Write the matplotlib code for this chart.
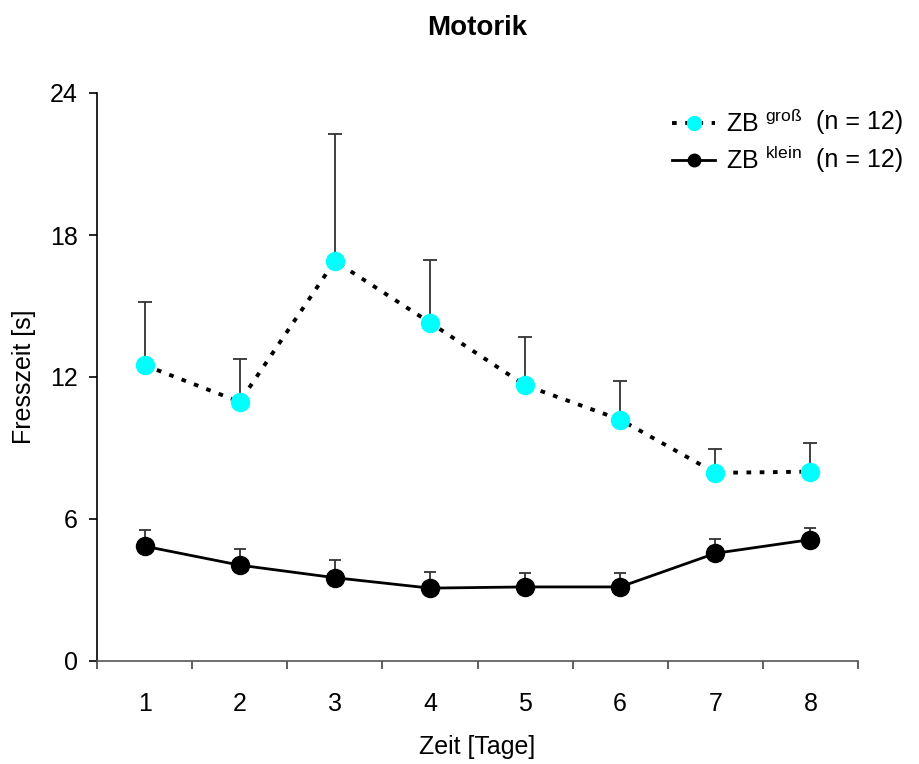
import numpy as np
import matplotlib
matplotlib.use("Agg")
import matplotlib.pyplot as plt
from matplotlib.lines import Line2D

plt.rcParams['font.family'] = ['Liberation Sans', 'DejaVu Sans']
plt.rcParams['mathtext.fontset'] = 'custom'
plt.rcParams['mathtext.rm'] = 'Liberation Sans'

# Daten
tage = [1, 2, 3, 4, 5, 6, 7, 8]
gross_mw = [12.5, 10.95, 16.9, 14.3, 11.65, 10.2, 7.95, 8.0]
gross_err = [2.65, 1.8, 5.35, 2.65, 2.05, 1.65, 1.0, 1.2]
klein_mw = [4.85, 4.05, 3.52, 3.08, 3.13, 3.13, 4.55, 5.13]
klein_err = [0.68, 0.7, 0.75, 0.7, 0.6, 0.6, 0.6, 0.5]
gruppen = [r'ZB $^{\mathregular{groß}}$', r'ZB $^{\mathregular{klein}}$']
n_text = ['(n = 12)', '(n = 12)']

fig = plt.figure(figsize=(9.2, 7.64), dpi=100)
ax = fig.add_axes([97 / 920, 1 - 661 / 764, 761 / 920, 568 / 764])

x = np.array(tage)

# Fehlerbalken (nur nach oben)
ax.errorbar(x, gross_mw, yerr=[np.zeros(len(x)), gross_err], fmt='none',
            ecolor='#333333', elinewidth=1.3, capsize=5, capthick=1.3, zorder=2)
ax.errorbar(x, klein_mw, yerr=[np.zeros(len(x)), klein_err], fmt='none',
            ecolor='#333333', elinewidth=1.3, capsize=4, capthick=1.3, zorder=2)

ax.plot(x, gross_mw, color='black', lw=2.8, linestyle=(0, (1.2, 2.2)), zorder=3)
ax.plot(x, gross_mw, linestyle='none', marker='o', ms=13, color='#00ffff',
        markeredgecolor='#00ffff', zorder=4)
ax.plot(x, klein_mw, color='black', lw=2, marker='o', ms=13,
        markerfacecolor='black', markeredgecolor='black', zorder=4)

ax.set_xlim(0.5, 8.5)
ax.set_ylim(0, 24)
ax.set_yticks([0, 6, 12, 18, 24])
ax.set_xticks(x)
ax.set_xticks(np.arange(0.5, 9, 1), minor=True)
ax.tick_params(axis='x', which='major', length=0, labelsize=18, pad=22)
ax.tick_params(axis='x', which='minor', length=6, width=1.2, color='#444444')
ax.tick_params(axis='y', length=6, width=1.2, labelsize=18, pad=8)

for s in ['top', 'right']:
    ax.spines[s].set_visible(False)
ax.spines['left'].set_linewidth(1.2)
ax.spines['bottom'].set_linewidth(1.2)
ax.spines['bottom'].set_color('#555555')

ax.set_xlabel('Zeit [Tage]', fontsize=18, labelpad=14)
ax.set_ylabel('Fresszeit [s]', fontsize=18, labelpad=10)
fig.text(477 / 920, 1 - 28 / 764, 'Motorik', fontsize=20, fontweight='bold',
         ha='center', va='center')

handles = [
    Line2D([], [], color='black', lw=2.8, linestyle=(0, (1.2, 2.2)),
           marker='o', ms=10, markerfacecolor='#00ffff', markeredgecolor='#00ffff'),
    Line2D([], [], color='black', lw=2, marker='o', ms=9,
           markerfacecolor='black', markeredgecolor='black'),
]
ax.legend(handles, gruppen, loc='upper left', bbox_to_anchor=(0.7556, 0.970),
          frameon=False, fontsize=18, handlelength=1.72, handletextpad=0.44,
          labelspacing=0.38, borderpad=0, borderaxespad=0)
for i, t in enumerate(n_text):
    fig.text(816 / 920, 1 - (122 + 38 * i) / 764, t, fontsize=18,
             ha='left', va='center')

fig.savefig('out.png', dpi=100)
